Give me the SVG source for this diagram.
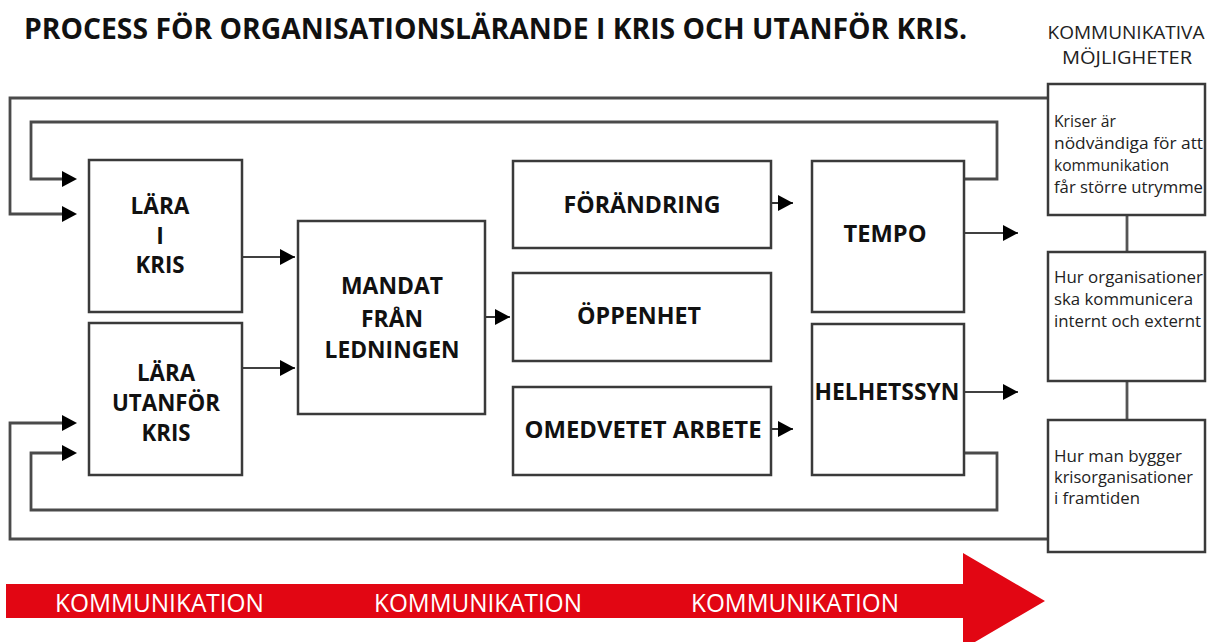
<svg xmlns="http://www.w3.org/2000/svg" width="1216" height="642" viewBox="0 0 1216 642">
<defs>
<style>
.box{fill:#fff;stroke:#3a3a3a;stroke-width:2.5}
.loop{fill:none;stroke:#4a4a4a;stroke-width:2.8}
.conn{fill:none;stroke:#000;stroke-width:1.6}
.vline{fill:none;stroke:#555;stroke-width:2.8}
.bt{font-family:"Open Sans","DejaVu Sans",sans-serif;font-weight:700;font-size:23px;fill:#111;text-anchor:middle}
.st{font-family:"Open Sans","Liberation Sans",sans-serif;font-size:16px;fill:#222}
.hd{font-family:"Open Sans","Liberation Sans",sans-serif;font-size:19px;fill:#222;text-anchor:middle}
.kt{font-family:"Open Sans","Liberation Sans",sans-serif;font-size:26px;fill:#fff}
</style>
<marker id="ah" markerUnits="userSpaceOnUse" markerWidth="16" markerHeight="16" viewBox="0 0 15 16" refX="15" refY="8" orient="auto">
<path d="M0,0 L15,8 L0,16 z" fill="#000"/>
</marker>
</defs>
<rect width="1216" height="642" fill="#fff"/>
<text x="24" y="39" font-family="'Open Sans','DejaVu Sans',sans-serif" font-weight="700" font-size="28" fill="#111" textLength="943" lengthAdjust="spacingAndGlyphs">PROCESS FÖR ORGANISATIONSLÄRANDE I KRIS OCH UTANFÖR KRIS.</text>
<g id="header">
<text class="hd" x="1126" y="39" textLength="157" lengthAdjust="spacingAndGlyphs">KOMMUNIKATIVA</text>
<text class="hd" x="1127" y="64" textLength="130" lengthAdjust="spacingAndGlyphs">MÖJLIGHETER</text>
</g>
<g id="connectors">
<polyline class="loop" points="1048,98 10,98 10,214 62,214"/>
<polyline class="loop" points="964,179 997,179 997,122 31,122 31,179 62,179"/>
<polyline class="loop" points="1048,539 10,539 10,423 62,423"/>
<polyline class="loop" points="964,453 997,453 997,510 31,510 31,453 62,453"/>
<path d="M62,206 L77,214 L62,222 z"/>
<path d="M62,171 L77,179 L62,187 z"/>
<path d="M62,415 L77,423 L62,431 z"/>
<path d="M62,445 L77,453 L62,461 z"/>
<line class="conn" x1="242" y1="257" x2="295" y2="257" marker-end="url(#ah)"/>
<line class="conn" x1="242" y1="368" x2="295" y2="368" marker-end="url(#ah)"/>
<line class="conn" x1="485" y1="317" x2="510" y2="317" marker-end="url(#ah)"/>
<line class="conn" x1="771" y1="203" x2="793" y2="203" marker-end="url(#ah)"/>
<line class="conn" x1="771" y1="429" x2="793" y2="429" marker-end="url(#ah)"/>
<line class="conn" x1="964" y1="233" x2="1018" y2="233" marker-end="url(#ah)"/>
<line class="conn" x1="964" y1="392" x2="1018" y2="392" marker-end="url(#ah)"/>
<line class="vline" x1="1127" y1="215" x2="1127" y2="252"/>
<line class="vline" x1="1127" y1="381" x2="1127" y2="420"/>
</g>
<g id="lara-i-kris">
<rect class="box" x="89" y="160" width="153" height="152"/>
<text class="bt" x="160" y="214" textLength="59" lengthAdjust="spacingAndGlyphs">LÄRA</text>
<text class="bt" x="160" y="244">I</text>
<text class="bt" x="160" y="273" textLength="49" lengthAdjust="spacingAndGlyphs">KRIS</text>
</g>
<g id="lara-utanfor-kris">
<rect class="box" x="89" y="323" width="153" height="152"/>
<text class="bt" x="166" y="381" textLength="58" lengthAdjust="spacingAndGlyphs">LÄRA</text>
<text class="bt" x="166" y="411" textLength="108" lengthAdjust="spacingAndGlyphs">UTANFÖR</text>
<text class="bt" x="166" y="441" textLength="49" lengthAdjust="spacingAndGlyphs">KRIS</text>
</g>
<g id="mandat">
<rect class="box" x="298" y="221" width="187" height="193"/>
<text class="bt" x="392" y="294" textLength="102" lengthAdjust="spacingAndGlyphs">MANDAT</text>
<text class="bt" x="392" y="327" textLength="62" lengthAdjust="spacingAndGlyphs">FRÅN</text>
<text class="bt" x="392" y="358" textLength="135" lengthAdjust="spacingAndGlyphs">LEDNINGEN</text>
</g>
<g id="forandring">
<rect class="box" x="513" y="161" width="258" height="87"/>
<text class="bt" x="642" y="213" textLength="157" lengthAdjust="spacingAndGlyphs">FÖRÄNDRING</text>
</g>
<g id="oppenhet">
<rect class="box" x="513" y="273" width="258" height="88"/>
<text class="bt" x="639" y="324" textLength="124" lengthAdjust="spacingAndGlyphs">ÖPPENHET</text>
</g>
<g id="omedvetet">
<rect class="box" x="513" y="387" width="258" height="88"/>
<text class="bt" x="643" y="438" textLength="237" lengthAdjust="spacingAndGlyphs">OMEDVETET ARBETE</text>
</g>
<g id="tempo">
<rect class="box" x="812" y="161" width="152" height="151"/>
<text class="bt" x="885" y="242" textLength="83" lengthAdjust="spacingAndGlyphs">TEMPO</text>
</g>
<g id="helhetssyn">
<rect class="box" x="812" y="324" width="152" height="151"/>
<text class="bt" x="887" y="400" textLength="145" lengthAdjust="spacingAndGlyphs">HELHETSSYN</text>
</g>
<g id="mojlighet-1">
<rect class="box" x="1048" y="84" width="157" height="131"/>
<text class="st" x="1054" y="127" textLength="62" lengthAdjust="spacingAndGlyphs">Kriser är</text>
<text class="st" x="1054" y="149" textLength="149" lengthAdjust="spacingAndGlyphs">nödvändiga för att</text>
<text class="st" x="1054" y="171" textLength="115" lengthAdjust="spacingAndGlyphs">kommunikation</text>
<text class="st" x="1054" y="193" textLength="149" lengthAdjust="spacingAndGlyphs">får större utrymme</text>
</g>
<g id="mojlighet-2">
<rect class="box" x="1048" y="252" width="157" height="129"/>
<text class="st" x="1054" y="283" textLength="149" lengthAdjust="spacingAndGlyphs">Hur organisationer</text>
<text class="st" x="1054" y="305" textLength="139" lengthAdjust="spacingAndGlyphs">ska kommunicera</text>
<text class="st" x="1054" y="327" textLength="147" lengthAdjust="spacingAndGlyphs">internt och externt</text>
</g>
<g id="mojlighet-3">
<rect class="box" x="1048" y="420" width="157" height="132"/>
<text class="st" x="1054" y="462" textLength="128" lengthAdjust="spacingAndGlyphs">Hur man bygger</text>
<text class="st" x="1054" y="483" textLength="139" lengthAdjust="spacingAndGlyphs">krisorganisationer</text>
<text class="st" x="1054" y="504" textLength="86" lengthAdjust="spacingAndGlyphs">i framtiden</text>
</g>
<g id="kommunikation-arrow">
<polygon points="6,584 963,584 963,553 1045,601 963,649 963,618 6,618" fill="#e20613"/>
<text class="kt" x="55" y="612" textLength="209" lengthAdjust="spacingAndGlyphs">KOMMUNIKATION</text>
<text class="kt" x="374" y="612" textLength="208" lengthAdjust="spacingAndGlyphs">KOMMUNIKATION</text>
<text class="kt" x="691" y="612" textLength="208" lengthAdjust="spacingAndGlyphs">KOMMUNIKATION</text>
</g>
</svg>
